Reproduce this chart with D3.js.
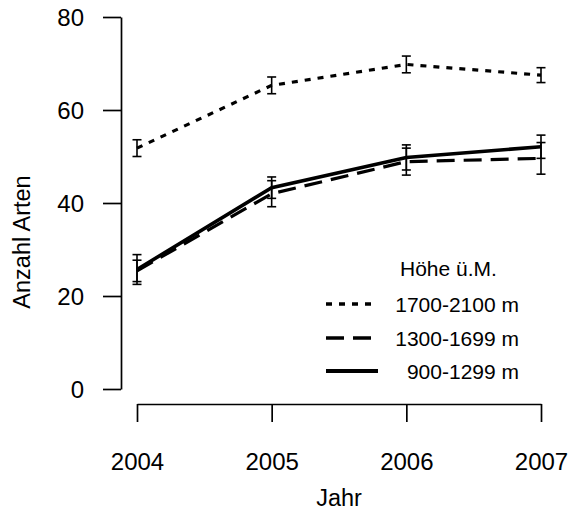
<!DOCTYPE html>
<html>
<head>
<meta charset="utf-8">
<script src="https://cdn.jsdelivr.net/npm/d3@7"></script>
<style>
  body { margin: 0; background: #fff; }
  text { font-family: "Liberation Sans", Arial, sans-serif; fill: #000; }
</style>
</head>
<body>
<div id="chart"></div>
<script>
// data (mean and +/- error per year)
var years = [2004, 2005, 2006, 2007];
var yTicks = [0, 20, 40, 60, 80];

var seriesNames = ["1700-2100 m", "1300-1699 m", "900-1299 m"];
var highMean = [51.8, 65.3, 69.8, 67.5];
var highErr  = [1.8, 1.8, 1.8, 1.6];
var midMean  = [25.4, 42.0, 48.9, 49.6];
var midErr   = [2.3, 2.8, 2.9, 3.4];
var lowMean  = [25.7, 43.3, 49.8, 52.1];
var lowErr   = [3.2, 2.3, 2.7, 2.5];

var width = 568, height = 522;

var svg = d3.select("#chart").append("svg")
    .attr("width", width)
    .attr("height", height);

var x = d3.scaleLinear()
    .domain([2004, 2007])
    .range([137, 541]);

var y = d3.scaleLinear()
    .domain([0, 80])
    .range([389, 17]);

// axes
var yAxis = svg.append("g")
    .attr("transform", "translate(121,0)")
    .call(d3.axisLeft(y).tickValues(yTicks).tickSize(18).tickSizeOuter(0).tickPadding(19));

var xAxis = svg.append("g")
    .attr("transform", "translate(0,404)")
    .call(d3.axisBottom(x).tickValues(years).tickFormat(d3.format("d"))
        .tickSize(18).tickSizeOuter(0).tickPadding(31));

[yAxis, xAxis].forEach(function (ax) {
    ax.selectAll("path, line").attr("stroke", "#000").attr("stroke-width", 1.7);
    ax.selectAll("text")
        .style("font-family", "'Liberation Sans', Arial, sans-serif")
        .style("font-size", "24px")
        .attr("fill", "#000");
});
yAxis.selectAll("text").attr("dy", "0.36em");

// axis titles
svg.append("text")
    .attr("transform", "translate(30,242) rotate(-90)")
    .attr("text-anchor", "middle")
    .style("font-size", "23.5px")
    .text("Anzahl Arten");

svg.append("text")
    .attr("x", 339)
    .attr("y", 506)
    .attr("text-anchor", "middle")
    .style("font-size", "23.5px")
    .text("Jahr");

var series = [
    {name: seriesNames[0], mean: highMean, err: highErr, dash: "6 7", lw: 3.2},
    {name: seriesNames[1], mean: midMean, err: midErr, dash: "18 9", lw: 3.2},
    {name: seriesNames[2], mean: lowMean, err: lowErr, dash: null, lw: 3.6}
];

var line = d3.line()
    .x(function (d, i) { return x(years[i]); })
    .y(function (d) { return y(d); });

// error bars
series.forEach(function (s) {
    var g = svg.append("g").attr("class", "errbars");
    s.mean.forEach(function (m, i) {
        var cx = x(years[i]);
        var top = y(m + s.err[i]), bot = y(m - s.err[i]);
        g.append("line")
            .attr("x1", cx).attr("x2", cx)
            .attr("y1", top).attr("y2", bot)
            .attr("stroke", "#000").attr("stroke-width", 1.6);
        [top, bot].forEach(function (yy) {
            g.append("line")
                .attr("x1", cx - 4.5).attr("x2", cx + 4.5)
                .attr("y1", yy).attr("y2", yy)
                .attr("stroke", "#000").attr("stroke-width", 1.6);
        });
    });
});

// lines
series.forEach(function (s) {
    svg.append("path")
        .attr("d", line(s.mean))
        .attr("fill", "none")
        .attr("stroke", "#000")
        .attr("stroke-width", s.lw)
        .attr("stroke-dasharray", s.dash);
});

// legend
var legend = svg.append("g").attr("class", "legend");
legend.append("text")
    .attr("x", 400)
    .attr("y", 276)
    .style("font-size", "21px")
    .text("Höhe ü.M.");

var rowY = [304, 338, 371];
series.forEach(function (s, i) {
    legend.append("line")
        .attr("x1", 326).attr("x2", 378)
        .attr("y1", rowY[i]).attr("y2", rowY[i])
        .attr("stroke", "#000")
        .attr("stroke-width", s.lw + 0.5)
        .attr("stroke-dasharray", s.dash);
    legend.append("text")
        .attr("x", 519)
        .attr("y", rowY[i])
        .attr("dy", "0.36em")
        .attr("text-anchor", "end")
        .style("font-size", "21px")
        .text(s.name);
});
</script>
</body>
</html>
